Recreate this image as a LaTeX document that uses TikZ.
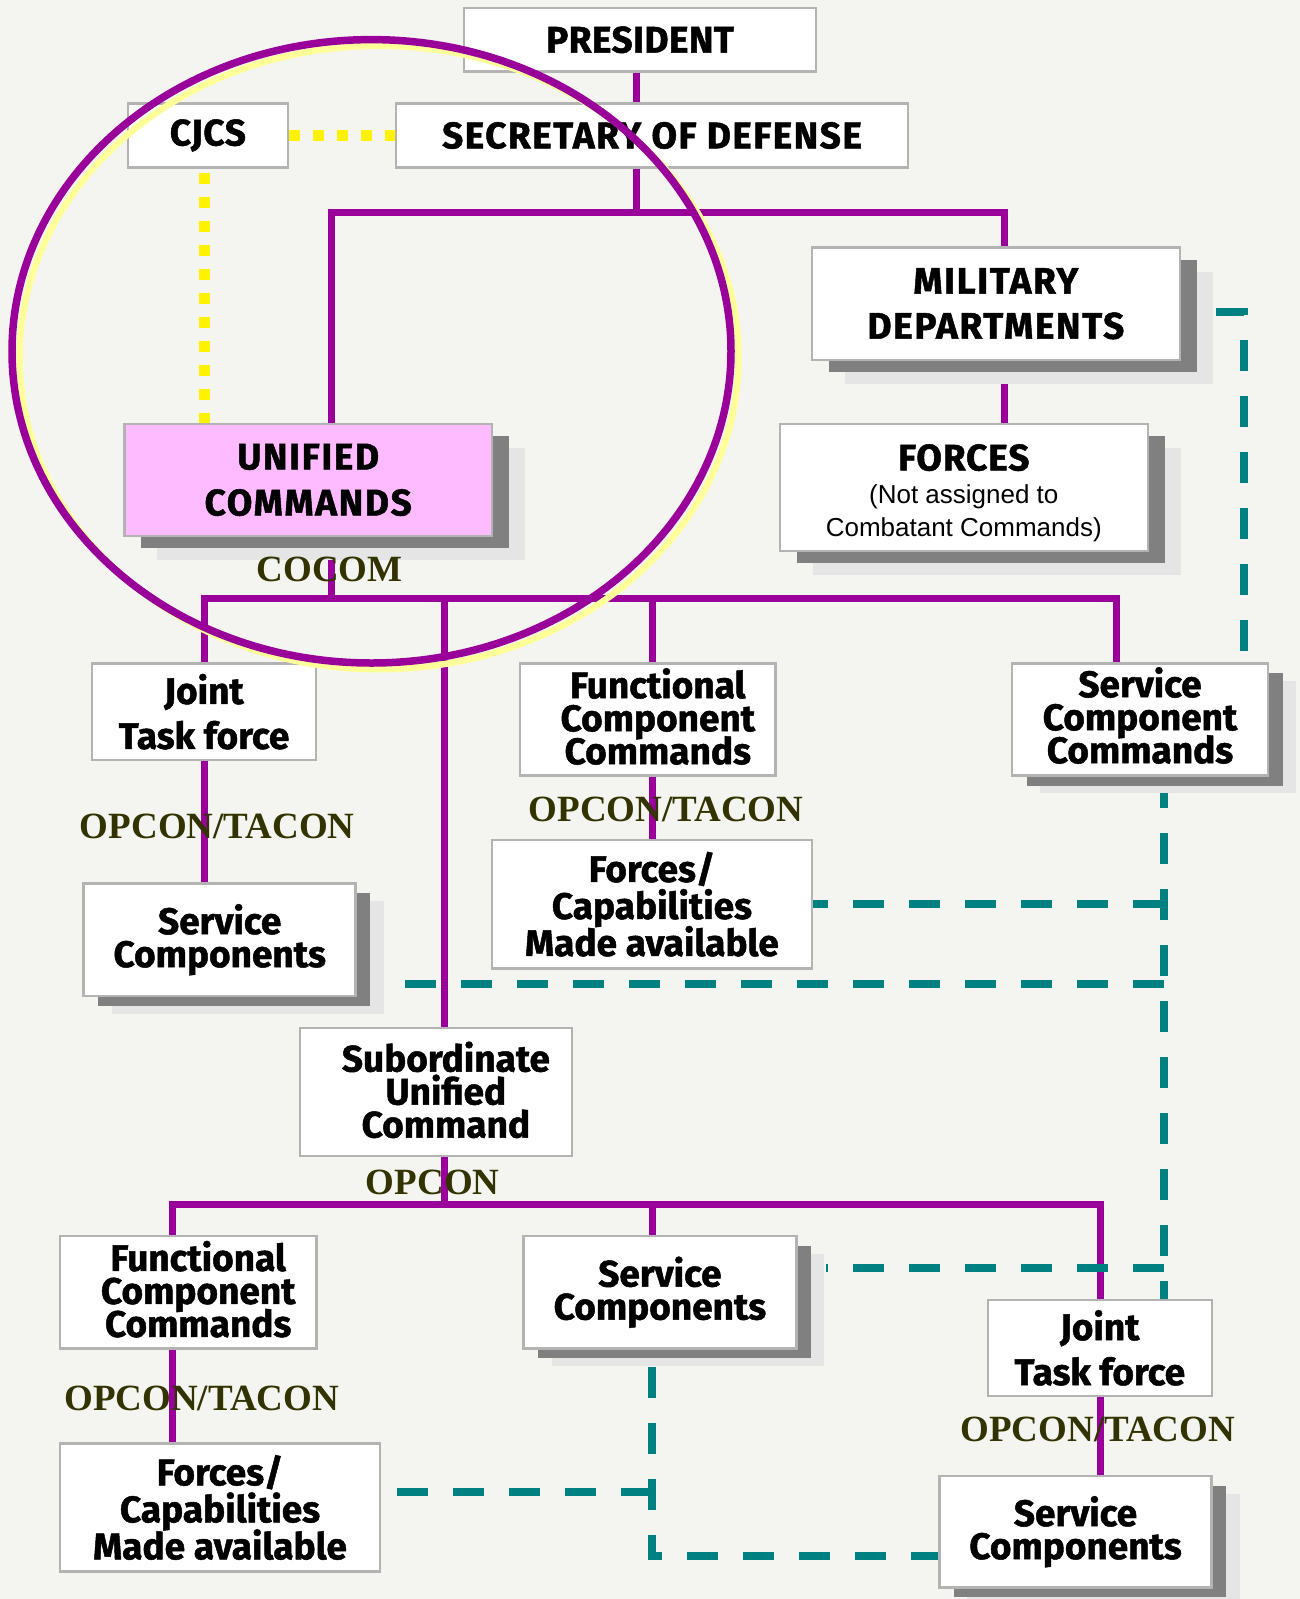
\documentclass[tikz,border=0pt]{standalone}
\usepackage{fontspec}
\setmainfont{Fira Sans}[BoldFeatures={FakeBold=1.3}]
\newfontfamily\lblfont{Liberation Serif}
\newfontfamily\arialfont{Liberation Sans}
\usetikzlibrary{calc}
\definecolor{bgc}{RGB}{244,245,240}
\definecolor{purp}{RGB}{153,0,153}
\definecolor{tealc}{RGB}{0,128,128}
\definecolor{pinkc}{RGB}{255,187,255}
\definecolor{olivec}{RGB}{51,51,0}
\definecolor{bord}{RGB}{179,179,179}
\definecolor{shd}{RGB}{128,128,128}
\definecolor{shl}{RGB}{229,229,229}
\definecolor{pyel}{RGB}{255,255,153}
\pgfdeclarelayer{back}\pgfdeclarelayer{lines}\pgfdeclarelayer{front}\pgfdeclarelayer{top}
\pgfsetlayers{back,lines,main,front,top}
\newcommand\bxfont[1]{\fontsize{37}{#1}\selectfont\bfseries\lineskiplimit=-100pt\relax\lineskip=0pt\relax}
\newcommand\capsfont[2]{\bxfont{#1}\addfontfeatures{LetterSpace=#2}}
\newcommand\subfont{\arialfont\fontsize{26}{33}\selectfont\lineskiplimit=-100pt\relax\lineskip=0pt\relax}
\newcommand\ttlfont{\rmfamily\bfseries\fontsize{37}{37}\selectfont\addfontfeatures{LetterSpace=2.5}}
\begin{document}
\begin{tikzpicture}[x=1pt,y=-1pt,
  box/.style={draw=bord, line width=2.5pt, fill=white, inner sep=0pt, align=center, font=\bxfont{33}},
  boxtext/.style={inner sep=0pt, align=center, font=\bxfont{33}},
  shbig/.style={preaction={fill=shl, draw=none, transform canvas={xshift=33pt,yshift=-24pt}},
                preaction={fill=shd, draw=none, transform canvas={xshift=17pt,yshift=-12pt}}},
  shsmall/.style={preaction={fill=shl, draw=none, transform canvas={xshift=28pt,yshift=-17.5pt}},
                  preaction={fill=shd, draw=none, transform canvas={xshift=14.5pt,yshift=-10pt}}},
  lbl/.style={font=\lblfont\bfseries\fontsize{37}{37}\selectfont, text=olivec, anchor=base, inner sep=0pt},
  pline/.style={draw=purp, line width=7pt},
  tline/.style={draw=tealc, line width=8pt, dash pattern=on 31pt off 25pt},
  yline/.style={draw=yellow, line width=11pt, dash pattern=on 11pt off 13pt},
]
\useasboundingbox (0,0) rectangle (1300,1599);
\begin{pgfonlayer}{back}
  \fill[bgc] (0,0) rectangle (1300,1599);
\end{pgfonlayer}
\begin{pgfonlayer}{front}
  \node[lbl] (cocom) at (329.5,581.7) {COCOM};
  \node[lbl] (oc1) at (217.3,838.3) {OPCON/TACON};
  \node[lbl] (oc2) at (666,821.7) {OPCON/TACON};
  \node[lbl] (oc3) at (432.7,1194.3) {OPCON};
  \node[lbl] (oc4) at (201.7,1410) {OPCON/TACON};
  \node[lbl] (oc5) at (1097.8,1441.7) {OPCON/TACON};
\end{pgfonlayer}

% boxes
\node[box, minimum width=352pt, minimum height=63.5pt, font=\capsfont{33}{1.2}] (pres) at (640,39.75) {PRESIDENT};
\node[box, minimum width=160.3pt, minimum height=64.3pt, font=\capsfont{33}{1.5}] (cjcs) at (207.9,135.5) {CJCS};
\node[box, minimum width=512pt, minimum height=64.3pt, font=\capsfont{33}{4}] (secdef) at (652,135.5) {SECRETARY OF DEFENSE};
\node[box, shbig, fill=pinkc, minimum width=367.6pt, minimum height=111.8pt, font=\capsfont{46}{4.5}] (uc) at (308.2,479.9) {UNIFIED\\COMMANDS};
\node[box, shbig, minimum width=368.3pt, minimum height=112.1pt, font=\capsfont{45}{4.5}] (md) at (995.9,303.7) {MILITARY\\DEPARTMENTS};
\node[box, shbig, minimum width=368pt, minimum height=127pt] (forces) at (963.8,487.5) {};
\node[inner sep=0pt, align=center, font=\subfont] (forces-t) at (963.8,493) {{\ttlfont FORCES}\\(Not assigned to\\Combatant Commands)};
\node[box, minimum width=224pt, minimum height=96.7pt, font=\bxfont{45}] (jtf1) at (204,711.7) {Joint\\Task force};
\node[box, minimum width=255.6pt, minimum height=112.4pt] (fct) at (647.8,719.5) {};
\node[boxtext] (fct-t) at ($(fct.center)+(10,-3)$) {Functional\\Component\\Commands};
\node[box, shsmall, minimum width=256pt, minimum height=112.4pt] (scc) at (1140,719.5) {};
\node[boxtext] (scc-t) at ($(scc.center)+(0,-4)$) {Service\\Component\\Commands};
\node[box, shsmall, minimum width=272pt, minimum height=112.7pt] (sc1) at (219.7,939.7) {Service\\Components};
\node[box, minimum width=319.7pt, minimum height=128.3pt, font=\bxfont{37}] (fcm) at (651.9,904.2) {Forces/\\Capabilities\\Made available};
\node[box, minimum width=272.3pt, minimum height=128.3pt] (sub) at (435.9,1091.9) {};
\node[boxtext] (sub-t) at ($(sub.center)+(10,-2)$) {Subordinate\\Unified\\Command};
\node[box, minimum width=256.3pt, minimum height=112.3pt] (fcb) at (188.2,1292.2) {};
\node[boxtext] (fcb-t) at ($(fcb.center)+(10,-3)$) {Functional\\Component\\Commands};
\node[box, shsmall, minimum width=272.8pt, minimum height=112.3pt] (scm) at (659.9,1292.2) {Service\\Components};
\node[box, minimum width=224pt, minimum height=95.7pt, font=\bxfont{45}] (jtf2) at (1099.8,1347.9) {Joint\\Task force};
\node[box, minimum width=320pt, minimum height=128.4pt, font=\bxfont{37}] (fcb2) at (220,1507.5) {Forces/\\Capabilities\\Made available};
\node[box, shsmall, minimum width=272.4pt, minimum height=111.3pt] (scb) at (1075.5,1531.7) {Service\\Components};

\begin{pgfonlayer}{lines}
  \coordinate (xsd) at (636,0);
  \coordinate (xuc) at (331.6,0);
  \coordinate (xmd) at (1004,0);
  \coordinate (xscc) at (1116,0);
  \coordinate (xfc) at (652,0);
  \coordinate (xsub) at (444,0);
  \coordinate (xfb) at (172,0);
  \coordinate (xjt) at (1100,0);
  \coordinate (xy) at (204,0);
  \coordinate (ytop) at (0,212);
  \coordinate (ybus1) at (0,598);
  \coordinate (ybus2) at (0,1204);
  % purple hierarchy
  \draw[pline] (pres.south -| xsd) -- (secdef.north -| xsd);
  \draw[pline] (secdef.south -| xsd) -- (xsd |- ytop);
  \draw[pline] (uc.north -| xuc) -- (xuc |- ytop) -- (xmd |- ytop) -- (md.north -| xmd);
  \draw[pline] (md.south -| xmd) -- (forces.north -| xmd);
  \draw[pline] (uc.south -| xuc) -- (xuc |- ybus1);
  \draw[pline] (jtf1.north) -- (jtf1.north |- ybus1) -- (xscc |- ybus1) -- (scc.north -| xscc);
  \draw[pline] (xfc |- ybus1) -- (fct.north -| xfc);
  \draw[pline] (xsub |- ybus1) -- (sub.north -| xsub);
  \draw[pline] (jtf1.south) -- (jtf1.south |- sc1.north);
  \draw[pline] (fct.south -| xfc) -- (fcm.north -| xfc);
  \draw[pline] (sub.south -| xsub) -- (xsub |- ybus2);
  \draw[pline] (fcb.north -| xfb) -- (xfb |- ybus2) -- (xjt |- ybus2) -- (jtf2.north -| xjt);
  \draw[pline] (xfc |- ybus2) -- (scm.north -| xfc);
  \draw[pline] (fcb.south -| xfb) -- (fcb2.north -| xfb);
  \draw[pline] (jtf2.south -| xjt) -- (scb.north -| xjt);
  % teal dashed
  \coordinate (trunk) at (1164,0);
  \coordinate (xr) at (1244,0);
  \coordinate (yb) at (0,1556);
  \coordinate (mdt) at ($(md.east)+(34.6,8.3)$);
  \coordinate (sc1t) at ($(sc1.east)+(28,44.3)$);
  \coordinate (scmt) at ($(scm.east)+(28,-24.5)$);
  \coordinate (fbt) at ($(fcb2.east)+(0,-15.8)$);
  \coordinate (scmb) at ($(scm.south -| xfc)+(0,17.5)$);
  \draw[tline] (mdt) -- (mdt -| xr) -- (scc.north -| xr);
  \draw[tline] (scc.south -| trunk) -- (jtf2.north -| trunk);
  \draw[tline] (fcm.east -| trunk) -- (fcm.east);
  \draw[tline] (sc1t -| trunk) -- (sc1t);
  \draw[tline] (scmt -| trunk) -- (scmt);
  \draw[tline] (fbt -| xfc) -- (fbt);
  \draw[tline] (scmb) -- (scmb |- yb) -- (scb.west |- yb);
  % yellow dotted
  \draw[yline] (cjcs.east) -- (secdef.west);
  \draw[yline] ($(cjcs.south -| xy)+(0,4.4)$) -- (uc.north -| xy);
\end{pgfonlayer}

\begin{pgfonlayer}{top}
  \draw[pyel, line width=6.5pt] (379,357.5) ellipse [x radius=359.5pt, y radius=311.7pt];
  \draw[purp, line width=7.5pt] (371.5,351.3) ellipse [x radius=359.5pt, y radius=311.7pt];
\end{pgfonlayer}
\end{tikzpicture}
\end{document}
